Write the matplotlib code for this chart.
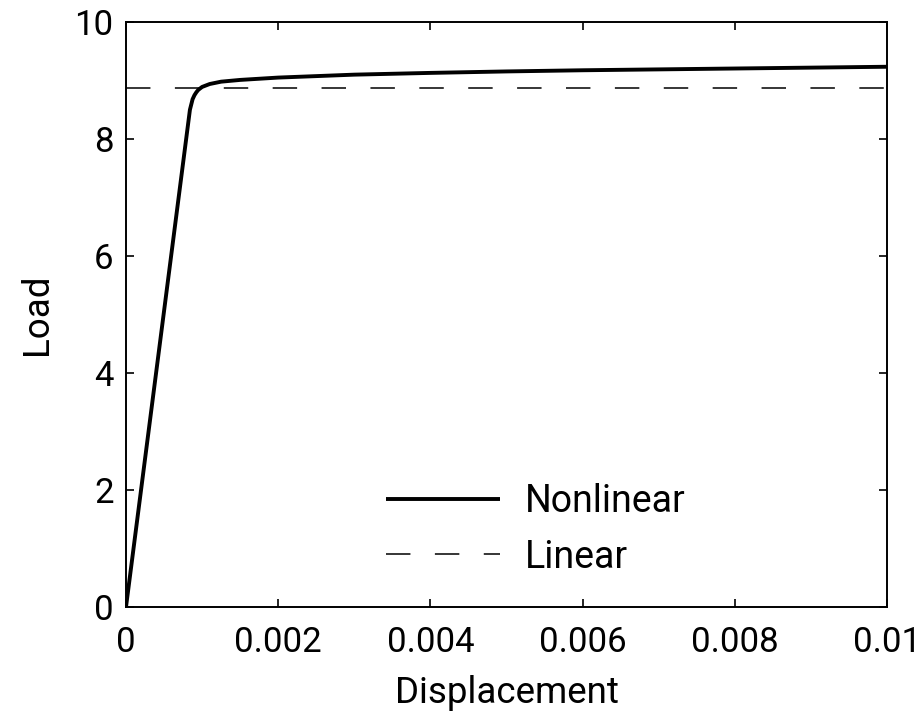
import numpy as np
import matplotlib
matplotlib.use('Agg')
from matplotlib import pyplot as plt
from matplotlib.ticker import FuncFormatter

plt.rcParams['font.family'] = ['Roboto', 'DejaVu Sans']

# nonlinear load-displacement curve
disp = [0, 0.00084, 0.000875, 0.0009, 0.000925, 0.00095, 0.001, 0.0011,
        0.00125, 0.0015, 0.002, 0.003, 0.004, 0.005, 0.006, 0.007, 0.008,
        0.009, 0.01]
load = [0, 8.5, 8.68, 8.75, 8.8, 8.84, 8.89, 8.94, 8.98, 9.01, 9.05,
        9.10, 9.13, 9.155, 9.175, 9.19, 9.205, 9.22, 9.235]
lin_load = 8.87
xticks = [0, 0.002, 0.004, 0.006, 0.008, 0.01]
yticks = [0, 2, 4, 6, 8, 10]

fig = plt.figure(figsize=(9.24, 7.2), dpi=100)
ax = fig.add_axes([126/924, 1-607/720, (887-126)/924, (607-22)/720])

ax.plot(disp, load, 'k-', lw=2.8, label='Nonlinear', solid_capstyle='butt')
ax.plot([0, 0.01], [lin_load, lin_load], color='k', lw=1.1,
        dashes=(16, 16), label='Linear')

ax.set_xlim(0, 0.01)
ax.set_ylim(0, 10)
ax.set_xticks(xticks)
ax.set_yticks(yticks)
ax.xaxis.set_major_formatter(FuncFormatter(lambda v, p: '%g' % v))
ax.tick_params(direction='in', length=6, width=1.2, top=True, right=True,
               labelsize=25)
ax.tick_params(axis='x', pad=14)
ax.tick_params(axis='y', pad=9)
for s in ax.spines.values():
    s.set_linewidth(1.4)

ax.set_xlabel('Displacement', fontsize=26.5, labelpad=11)
ax.set_ylabel('Load', fontsize=26.5, labelpad=14)

leg = ax.legend(loc='center left', bbox_to_anchor=(0.297, 0.133), frameon=False,
                fontsize=27, handlelength=3.05, handletextpad=0.65,
                labelspacing=0.5)

fig.savefig('out.png', dpi=100)
